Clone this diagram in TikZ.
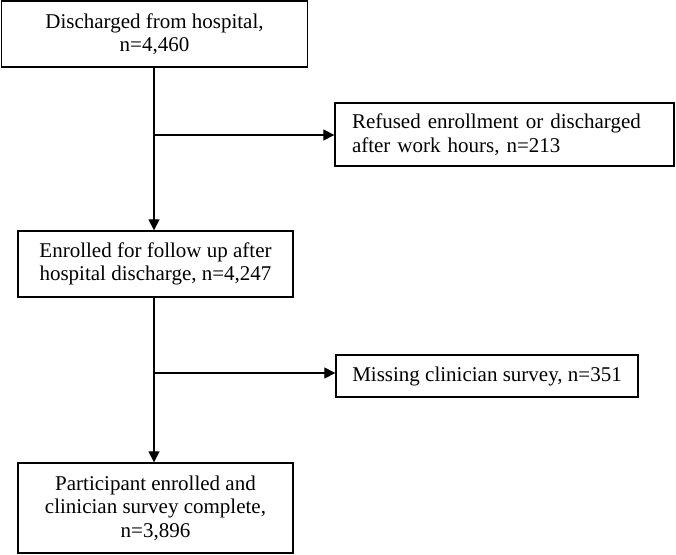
\documentclass[tikz,border=0pt]{standalone}
\usepackage{fontspec}
\setmainfont{Liberation Serif}
\usetikzlibrary{arrows.meta}
\begin{document}
\begin{tikzpicture}[x=1pt,y=1pt,
  box/.style={draw=black,line width=1.3pt,fill=white,inner sep=0pt,
    font=\fontsize{21}{23.5}\selectfont,align=center},
  conn/.style={line width=1.1pt,-{Triangle[length=11pt,width=11pt]}}]
\useasboundingbox (0,0) rectangle (676,-554);
\node[box,minimum width=306pt,minimum height=66pt] (b1) at (154.5,-34) {Discharged from hospital,\\n=4,460};
\node[box,minimum height=63pt,text width=305pt,inner xsep=17pt,align=left] (b3) at (504.5,-134.5) {Refused enrollment or discharged\\after work hours, n=213};
\node[box,minimum width=275pt,minimum height=66pt] (b2) at (155.5,-264) {Enrolled for follow up after\\hospital discharge, n=4,247};
\node[box,minimum width=302pt,minimum height=42pt] (b4) at (487,-376) {Missing clinician survey, n=351};
\node[box,minimum width=275pt,minimum height=90pt] (b5) at (155.5,-508) {Participant enrolled and\\clinician survey complete,\\n=3,896};
\coordinate (t1) at (154,-67.5);
\coordinate (j1) at (154,-135);
\coordinate (t2) at (154,-297.5);
\coordinate (j2) at (154,-373);
\draw[conn] (t1) -- (t1 |- b2.north);
\draw[conn] (j1) -- (j1 -| b3.west);
\draw[conn] (t2) -- (t2 |- b5.north);
\draw[conn] (j2) -- (j2 -| b4.west);
\end{tikzpicture}
\end{document}
